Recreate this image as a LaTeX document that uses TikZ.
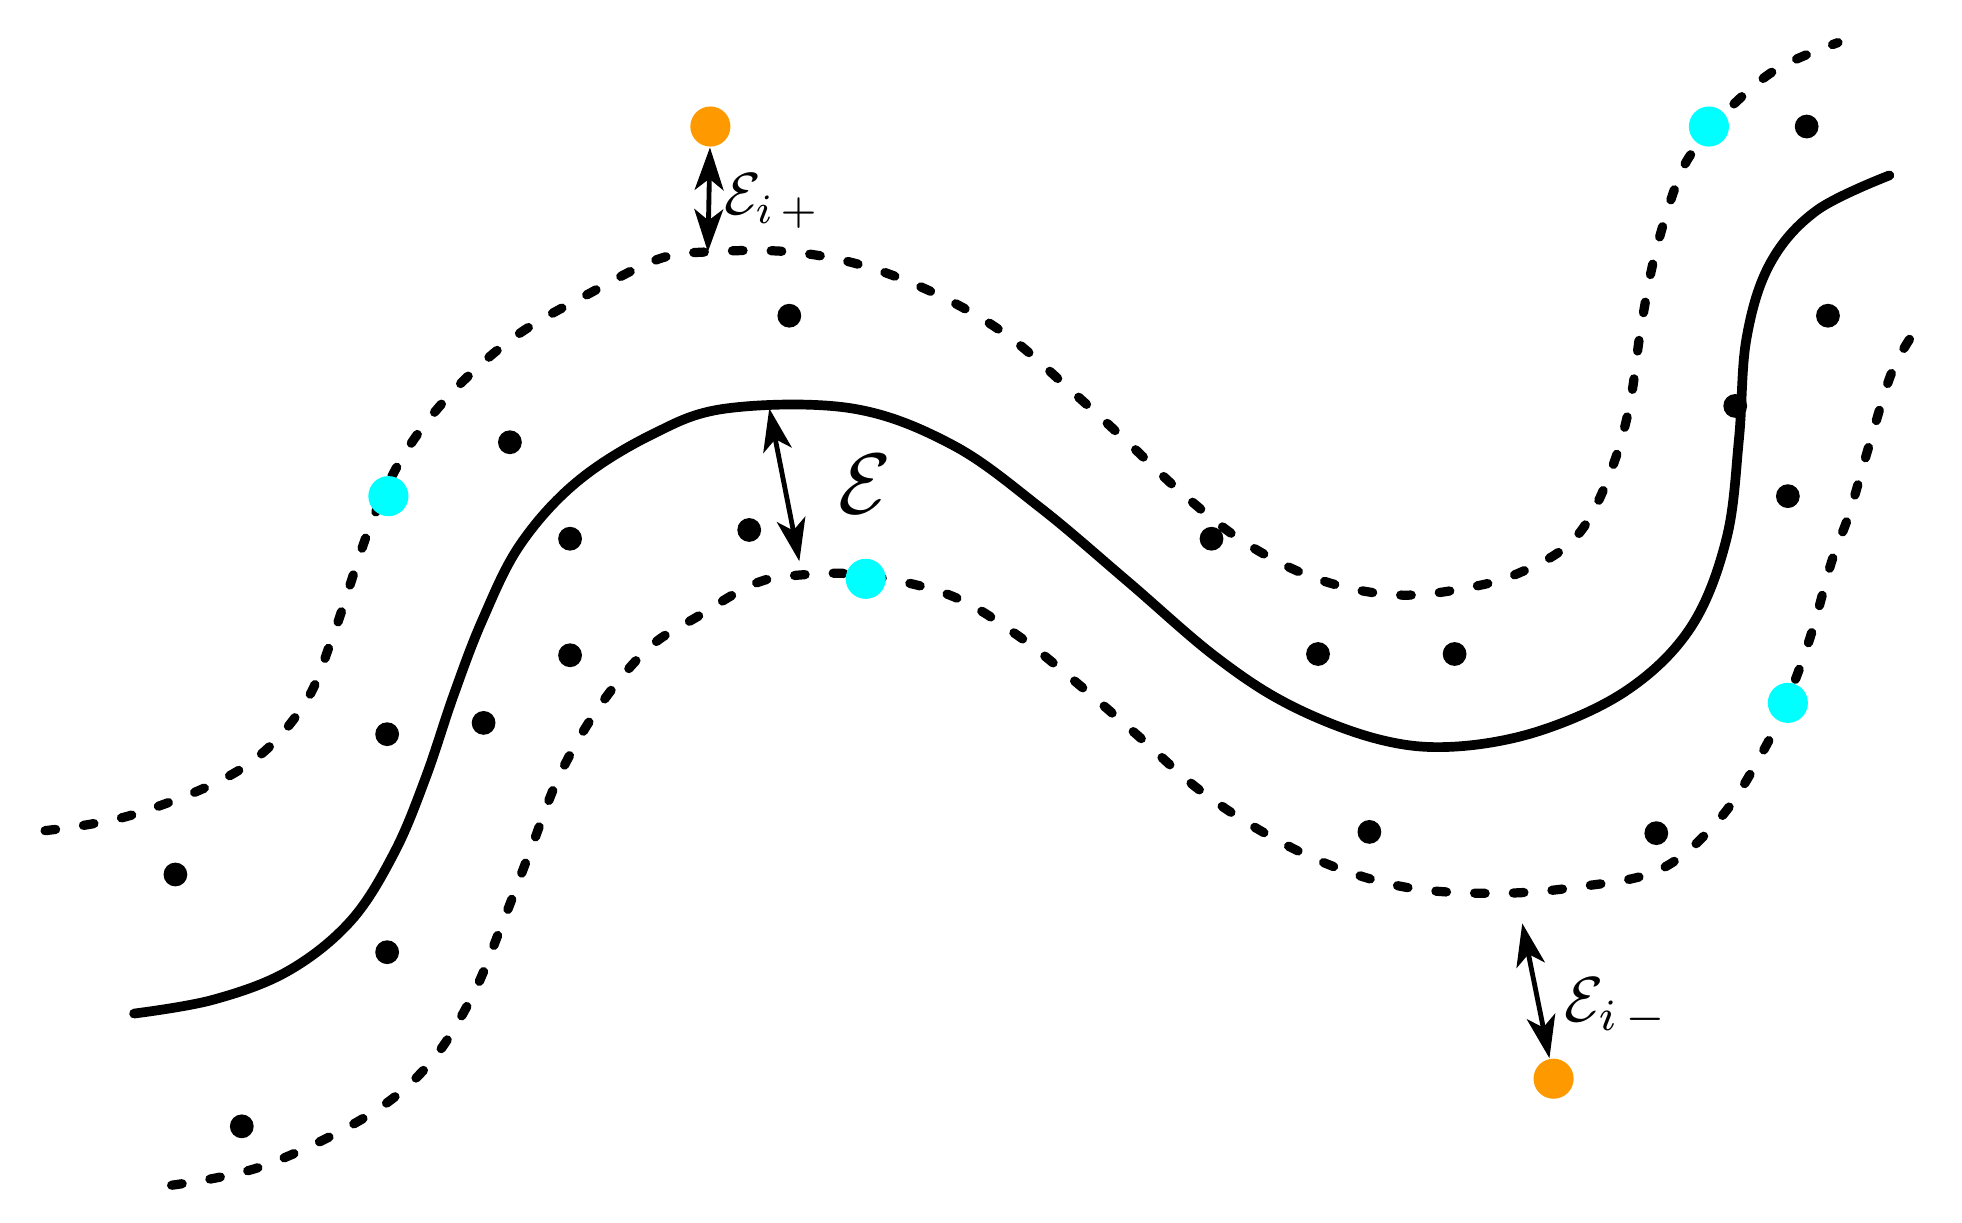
\documentclass[tikz,border=0pt]{standalone}
\usepackage{amsmath,amssymb}
\usepackage{tikz}
\usetikzlibrary{arrows.meta}
\usepackage{xcolor}
\definecolor{dotorange}{RGB}{255,153,0}
\definecolor{dotcyan}{RGB}{0,255,255}

\begin{document}
\begin{tikzpicture}[x=0.1mm,y=0.1mm,yscale=-1,xscale=1,
  scurve/.style={line width=2.2pt, line cap=round},
  dcurve/.style={line width=2.1pt, line cap=round, dash pattern=on 2.4pt off 6.4pt},
  blk/.style={circle, fill=black, inner sep=0pt, minimum size=1.9mm},
  cyn/.style={circle, fill=dotcyan, inner sep=0pt, minimum size=3.2mm},
  org/.style={circle, fill=dotorange, inner sep=0pt, minimum size=3.2mm},
  epsarrow/.style={line width=1.1pt, {Stealth[length=3.4mm,width=2.3mm,inset=0.9mm]}-{Stealth[length=3.4mm,width=2.3mm,inset=0.9mm]}},
  lab/.style={anchor=base west, inner sep=0pt, scale=1.35},
  biglab/.style={anchor=base west, inner sep=0pt, scale=1.95}]
%set diagram size: 1566 x 975.5
\useasboundingbox (0,0) rectangle (1566,975.5);

%Curve: upper bound [dashed]
\draw [dcurve] plot [smooth, tension=0.6] coordinates {(36,663) (107,650) (192,614) (241,565) (266,507) (295,421) (323,362) (362,312) (412,268) (469,235) (525,207) (566,201) (630,201) (689,212) (748,235) (803,267) (853,310) (899,352) (945,395) (995,434) (1054,463) (1118,475) (1182,467) (1220,454) (1249,437) (1269,413) (1288,370) (1301,322) (1310,260) (1322,199) (1342,137) (1362,108) (1385,82) (1420,54) (1467,34)};
%Curve: lower bound [dashed]
\draw [dcurve] plot [smooth, tension=0.6] coordinates {(137,946) (209,931) (291,892) (341,851) (376,797) (401,737) (424,677) (447,618) (479,563) (518,517) (557,492) (602,466) (638,459) (689,459) (758,475) (812,507) (863,548) (908,587) (958,631) (1013,667) (1068,693) (1127,709) (1196,713) (1259,708) (1325,694) (1373,653) (1407,600) (1428,555) (1446,505) (1462,448) (1476,410) (1492,355) (1510,297) (1528,265)};
%Curve: regression function [solid]
\draw [scurve] plot [smooth, tension=0.6] coordinates {(107,809) (170,798) (230,775) (280,735) (315,680) (340,620) (362,555) (385,495) (415,435) (460,385) (520,347) (580,326) (680,326) (760,355) (830,405) (900,464) (970,524) (1030,563) (1100,590) (1160,596) (1230,583) (1300,550) (1350,500) (1378,430) (1388,350) (1394,270) (1413,210) (1450,168) (1508,140)};

%Shape: data points
\node [blk] (p1) at (630,252) {};
\node [blk] (p2) at (407,353) {};
\node [blk] (p3) at (455,430) {};
\node [blk] (p4) at (598,423) {};
\node [blk] (p5) at (455,523) {};
\node [blk] (p6) at (309,586) {};
\node [blk] (p7) at (386,577) {};
\node [blk] (p8) at (140,698) {};
\node [blk] (p9) at (309,760) {};
\node [blk] (p10) at (193,899) {};
\node [blk] (p11) at (967,430) {};
\node [blk] (p12) at (1052,522) {};
\node [blk] (p13) at (1161,522) {};
\node [blk] (p14) at (1093,664) {};
\node [blk] (p15) at (1322,665) {};
\node [blk] (p16) at (1442,101) {};
\node [blk] (p17) at (1459,252) {};
\node [blk] (p18) at (1385,324) {};
\node [blk] (p19) at (1427,396) {};
%Shape: support vectors
\node [cyn] (s1) at (310,396) {};
\node [cyn] (s2) at (691,462) {};
\node [cyn] (s3) at (1364,101) {};
\node [cyn] (s4) at (1427,561) {};
%Shape: outliers
\node [org] (oplus) at (567,101) {};
\node [org] (ominus) at (1240,861) {};

%Straight Lines: margins
\coordinate (cplus) at (565,201);
\coordinate (etop) at (614,326);
\coordinate (ebot) at (638,448);
\coordinate (cminus) at (1215,737);
\draw [epsarrow] (oplus) -- (cplus);
\draw [epsarrow] (etop) -- (ebot);
\draw [epsarrow] (cminus) -- (ominus);

% Text Node
\node [lab] (lplus) at (577,171) {$\mathcal{E}_{i\,+}$};
% Text Node
\node [biglab] (leps) at (668,410) {$\mathcal{E}$};
% Text Node
\node [lab, scale=1.07] (lminus) at (1248,815) {$\mathcal{E}_{i\,-}$};

\end{tikzpicture}
\end{document}
